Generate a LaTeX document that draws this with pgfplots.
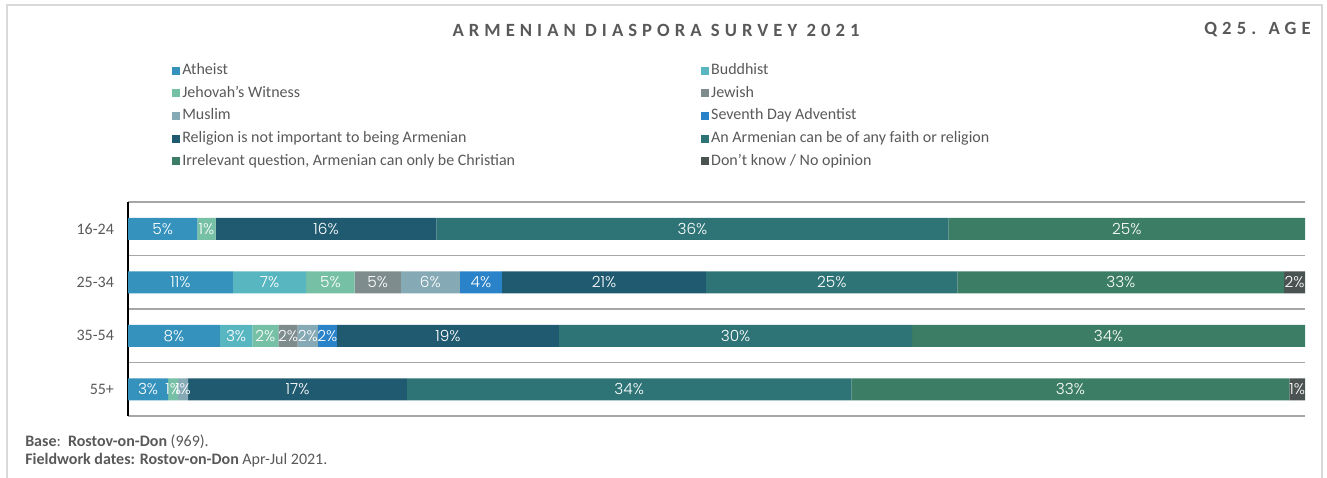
\documentclass[border=0pt]{standalone}
\usepackage{pgfplots}
\pgfplotsset{compat=1.18}
\usepackage{pgfplotstable}
\usepackage{fontspec}
\setmainfont{Carlito}
\newfontfamily\titlefont{Carlito}[LetterSpace=27]
\newfontfamily\lblfont{Poppins}[UprightFont=* Light]
\definecolor{cAth}{HTML}{3492BC}
\definecolor{cBud}{HTML}{58B6C0}
\definecolor{cJW}{HTML}{76C0A6}
\definecolor{cJew}{HTML}{7E8C8D}
\definecolor{cMus}{HTML}{85A9B5}
\definecolor{cSDA}{HTML}{2A83C8}
\definecolor{cNot}{HTML}{205A70}
\definecolor{cAny}{HTML}{2E7476}
\definecolor{cIrr}{HTML}{3C7D66}
\definecolor{cDK}{HTML}{4B5352}
\definecolor{txtgray}{HTML}{595959}
\definecolor{gridgray}{HTML}{A6A6A6}
\definecolor{framegray}{HTML}{D9D9D9}
\pgfplotstableread{
idx Ath Bud JW Jew Mus SDA Not Any Irr DK tot
0 4.9 0 1.3 0 0 0 15.6 36.2 25.2 0 83.2
1 10.6 7.4 4.9 4.65 5.97 4.25 20.6 25.4 33.0 2.1 118.87
2 7.9 2.8 2.25 1.65 1.73 1.65 19.1 30.4 33.8 0 101.28
3 3.06 0 0.76 0 0.76 0 16.7 33.9 33.4 1.2 89.78
}\data
\begin{document}
\begin{tikzpicture}
\useasboundingbox (0,0) rectangle (995.25pt,-358.5pt);
\draw[framegray, line width=0.8pt] (5.25pt,-358.5pt) |- (991.5pt,-3.75pt) -- (991.5pt,-358.5pt);
\node[font=\titlefont\bfseries\fontsize{14}{16}\selectfont, text=txtgray] at (492pt,-22.5pt) {ARMENIAN DIASPORA SURVEY 2021};
\node[font=\titlefont\bfseries\fontsize{14}{16}\selectfont, text=txtgray, anchor=east, inner sep=0pt] at (983.25pt,-22.5pt) {Q25. AGE};
\node[font=\fontsize{12}{14}\selectfont, text=txtgray, anchor=west, inner sep=0pt] at (18.75pt,-331pt) {\textbf{Base}:\ \ \textbf{Rostov-on-Don} (969).};
\node[font=\fontsize{12}{14}\selectfont, text=txtgray, anchor=west, inner sep=0pt] at (18.75pt,-345.5pt) {\textbf{Fieldwork dates: Rostov-on-Don} Apr-Jul 2021.};
\begin{axis}[
  at={(96pt,-312pt)}, anchor=south west,
  scale only axis, width=882.75pt, height=160.5pt,
  clip=false,
  xbar stacked, bar width=16.5pt,
  xmin=0, xmax=100, ymin=-0.5, ymax=3.5, y dir=reverse,
  ytick={0,1,2,3}, yticklabels={16-24,25-34,35-54,55+},
  minor ytick={-0.5,0.5,1.5,2.5,3.5}, yminorgrids,
  minor grid style={color=gridgray, line width=1pt},
  xtick=\empty, major tick length=0pt, minor tick length=0pt,
  axis x line=none, axis y line*=left,
  y axis line style={black, line width=1.2pt},
  yticklabel style={font=\fontsize{12}{14}\selectfont, text=txtgray, xshift=-7pt},
  point meta=explicit,
  nodes near coords={\pgfmathfloatifflags{\pgfplotspointmeta}{0}{}{\pgfmathprintnumber[fixed,precision=0]{\pgfplotspointmeta}\%}},
  every node near coord/.append style={font=\lblfont\fontsize{11.5}{13}\selectfont, text=white, inner sep=0pt},
  /pgf/number format/assume math mode=true,
  legend columns=2, legend cell align=left,
  legend image code/.code={\fill[#1] (0pt,-3pt) rectangle (6pt,3pt);},
  legend style={at={(0.0374,1)}, anchor=north west, yshift=105.75pt, draw=none, fill=none, inner sep=0pt,
    font=\fontsize{12}{14}\selectfont, text=txtgray,
    nodes={inner sep=1.5pt, text height=8.5pt, text depth=2.5pt},
    row sep=3pt,
    /tikz/every even column/.append style={column sep=138pt}},
]
\addplot[fill=cAth, draw=none] table[x expr=100*\thisrow{Ath}/\thisrow{tot}, y=idx, meta=Ath]{\data};
\addlegendentry{Atheist}
\addplot[fill=cBud, draw=none] table[x expr=100*\thisrow{Bud}/\thisrow{tot}, y=idx, meta=Bud]{\data};
\addlegendentry{Buddhist}
\addplot[fill=cJW, draw=none] table[x expr=100*\thisrow{JW}/\thisrow{tot}, y=idx, meta=JW]{\data};
\addlegendentry{Jehovah’s Witness}
\addplot[fill=cJew, draw=none] table[x expr=100*\thisrow{Jew}/\thisrow{tot}, y=idx, meta=Jew]{\data};
\addlegendentry{Jewish}
\addplot[fill=cMus, draw=none] table[x expr=100*\thisrow{Mus}/\thisrow{tot}, y=idx, meta=Mus]{\data};
\addlegendentry{Muslim}
\addplot[fill=cSDA, draw=none] table[x expr=100*\thisrow{SDA}/\thisrow{tot}, y=idx, meta=SDA]{\data};
\addlegendentry{Seventh Day Adventist}
\addplot[fill=cNot, draw=none] table[x expr=100*\thisrow{Not}/\thisrow{tot}, y=idx, meta=Not]{\data};
\addlegendentry{Religion is not important to being Armenian}
\addplot[fill=cAny, draw=none] table[x expr=100*\thisrow{Any}/\thisrow{tot}, y=idx, meta=Any]{\data};
\addlegendentry{An Armenian can be of any faith or religion}
\addplot[fill=cIrr, draw=none] table[x expr=100*\thisrow{Irr}/\thisrow{tot}, y=idx, meta=Irr]{\data};
\addlegendentry{Irrelevant question, Armenian can only be Christian}
\addplot[fill=cDK, draw=none] table[x expr=100*\thisrow{DK}/\thisrow{tot}, y=idx, meta=DK]{\data};
\addlegendentry{Don’t know / No opinion}
\end{axis}
\end{tikzpicture}
\end{document}
